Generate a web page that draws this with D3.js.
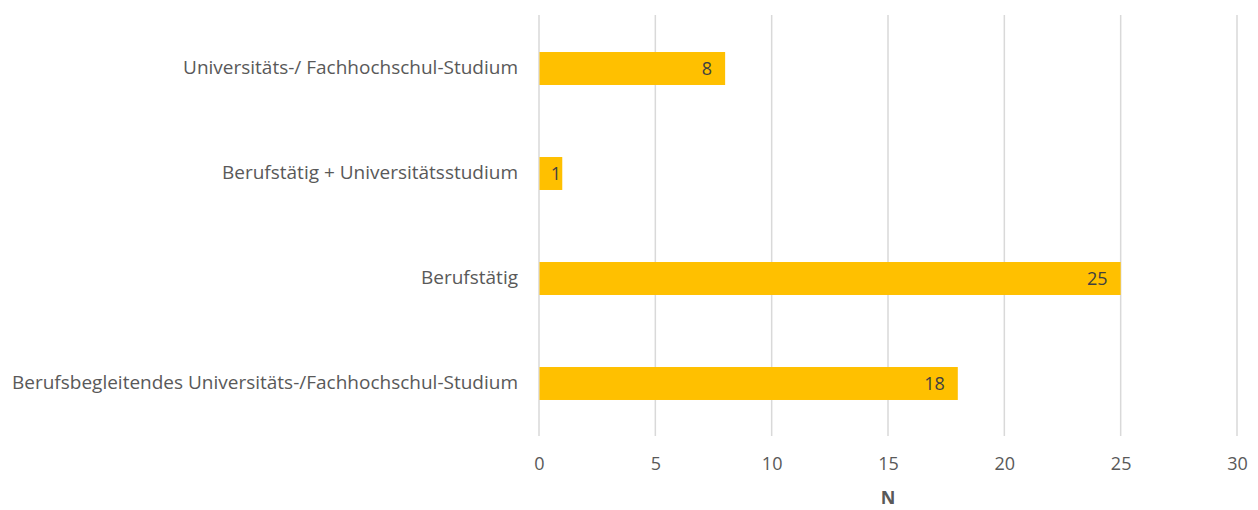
<!DOCTYPE html>
<html>
<head>
<meta charset="utf-8">
<script src="https://cdn.jsdelivr.net/npm/d3@7"></script>
<style>
  html, body { margin: 0; padding: 0; background: #fff; }
  svg { display: block; }
  text { font-family: "Open Sans", "Noto Sans", sans-serif; }
</style>
</head>
<body>
<svg id="chart" width="1258" height="510"></svg>
<script>
// Categories from top to bottom and their counts
const categories = [
  "Universitäts-/ Fachhochschul-Studium",
  "Berufstätig + Universitätsstudium",
  "Berufstätig",
  "Berufsbegleitendes Universitäts-/Fachhochschul-Studium"
];
const counts = [8, 1, 25, 18];
const xTicks = [0, 5, 10, 15, 20, 25, 30];
const xTitle = "N";

const svg = d3.select("#chart");
const margin = { top: 16, right: 21, bottom: 74, left: 539 };
const width = 1258, height = 510;
const innerW = width - margin.left - margin.right;
const innerH = height - margin.top - margin.bottom;
const labelFont = '"Open Sans", "Noto Sans", sans-serif';

const x = d3.scaleLinear().domain([0, 30]).range([0, innerW]);
const y = d3.scaleBand().domain(categories).range([0, innerH]).paddingInner(0.686).paddingOuter(0.343);

const g = svg.append("g").attr("transform", `translate(${margin.left},${margin.top})`);

// Vertical gridlines
g.append("g")
  .selectAll("line")
  .data(xTicks)
  .join("line")
  .attr("x1", d => x(d)).attr("x2", d => x(d))
  .attr("y1", -1).attr("y2", innerH)
  .attr("stroke", "#d9d9d9")
  .attr("stroke-width", 1.5);

// Bars
const data = categories.map((c, i) => ({ c, v: counts[i] }));
g.append("g")
  .selectAll("rect")
  .data(data)
  .join("rect")
  .attr("x", x(0) + 0.5)
  .attr("y", d => y(d.c))
  .attr("width", d => x(d.v) - x(0) - 0.5)
  .attr("height", y.bandwidth())
  .attr("fill", "#FFC000");

// Value labels inside the bar end (kept clear of the axis for short bars)
g.append("g")
  .selectAll("text")
  .data(data)
  .join("text")
  .attr("x", d => Math.max(x(d.v) - 13, x(0) + 22))
  .attr("y", d => y(d.c) + y.bandwidth() / 2)
  .attr("dy", "0.35em")
  .attr("text-anchor", "end")
  .attr("fill", "#404040")
  .attr("font-size", 18)
  .text(d => d.v);

// Category axis labels
const yAxis = d3.axisLeft(y).tickSize(0).tickPadding(21);
const yG = g.append("g").call(yAxis);
yG.select(".domain").remove();
yG.selectAll("text")
  .attr("font-size", 18)
  .attr("fill", "#595959")
  .style("font-family", labelFont);

// Value axis labels
const xAxis = d3.axisBottom(x).tickValues(xTicks).tickSize(0).tickPadding(21);
const xG = g.append("g").attr("transform", `translate(0,${innerH})`).call(xAxis);
xG.select(".domain").remove();
xG.selectAll("text")
  .attr("font-size", 18)
  .attr("fill", "#595959")
  .style("font-family", labelFont);

// Axis title
svg.append("text")
  .attr("x", margin.left + innerW / 2)
  .attr("y", 498)
  .attr("dy", "0.35em")
  .attr("text-anchor", "middle")
  .attr("font-size", 18)
  .attr("font-weight", "bold")
  .attr("fill", "#595959")
  .text(xTitle);

// Stretch category labels uniformly so the longest spans the left margin
const labelNodes = yG.selectAll("text").nodes();
const longest = d3.max(labelNodes, n => n.getComputedTextLength());
const stretch = 506 / longest;
labelNodes.forEach(n => {
  const w = n.getComputedTextLength();
  d3.select(n).attr("textLength", w * stretch).attr("lengthAdjust", "spacingAndGlyphs");
});
</script>
</body>
</html>
